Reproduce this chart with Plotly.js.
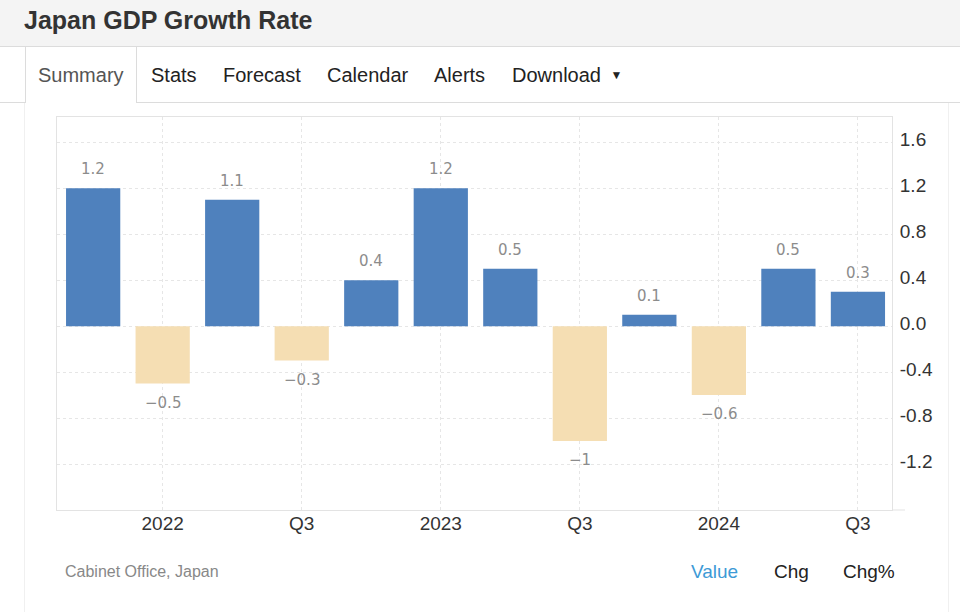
<!DOCTYPE html>
<html>
<head>
<meta charset="utf-8">
<script src="https://cdn.plot.ly/plotly-3.0.1.min.js"></script>
<style>
  html, body { margin:0; padding:0; width:960px; height:612px; overflow:hidden; background:#fff; font-family:"Liberation Sans", Arial, sans-serif; }
  .abs { position:absolute; }
  #header { left:0; top:0; width:960px; height:47px; background:#f4f4f4; border-bottom:1px solid #dcdcdc; box-sizing:border-box; }
  #title { left:24px; top:4px; font-size:25px; font-weight:bold; color:#333; line-height:32px; white-space:nowrap; }
  #tabline1 { left:0; top:102px; width:25px; height:1px; background:#dcdcdc; }
  #tabline2 { left:137px; top:102px; width:823px; height:1px; background:#dcdcdc; }
  #activetab { left:25px; top:47px; width:112px; height:56px; border-left:1px solid #dcdcdc; border-right:1px solid #dcdcdc; box-sizing:border-box; }
  .tab { top:62px; font-size:20px; line-height:26px; color:#222; white-space:nowrap; }
  #panelL { left:24px; top:103px; width:1px; height:509px; background:#f0f0f0; }
  #panelR { left:948px; top:103px; width:1px; height:509px; background:#f0f0f0; }
  #source { left:65px; top:562px; font-size:16px; color:#888; line-height:20px; white-space:nowrap; }
  .mode { top:560px; font-size:19px; line-height:24px; color:#222; white-space:nowrap; }
  #chart { position:absolute; left:0; top:0; width:960px; height:612px; }
</style>
</head>
<body>
<div id="header" class="abs"></div>
<div id="title" class="abs">Japan GDP Growth Rate</div>
<div id="activetab" class="abs"></div>
<div id="tabline1" class="abs"></div>
<div id="tabline2" class="abs"></div>
<div class="abs tab" style="left:38px;color:#555;">Summary</div>
<div class="abs tab" style="left:151px;">Stats</div>
<div class="abs tab" style="left:223px;">Forecast</div>
<div class="abs tab" style="left:327px;">Calendar</div>
<div class="abs tab" style="left:434px;">Alerts</div>
<div class="abs tab" style="left:512px;">Download <span style="font-size:12px;position:relative;top:-3px;left:4px;">&#9660;</span></div>
<div id="panelL" class="abs"></div>
<div id="panelR" class="abs"></div>
<div id="chart"></div>
<div id="source" class="abs">Cabinet Office, Japan</div>
<div class="abs mode" style="left:691px;color:#3d9ad6;">Value</div>
<div class="abs mode" style="left:774px;">Chg</div>
<div class="abs mode" style="left:843px;">Chg%</div>
<script>
// ---- data ----
const quarters = ["Q4 2021","Q1 2022","Q2 2022","Q3 2022","Q4 2022","Q1 2023","Q2 2023","Q3 2023","Q4 2023","Q1 2024","Q2 2024","Q3 2024"];
const growth = [1.2, -0.5, 1.1, -0.3, 0.4, 1.2, 0.5, -1, 0.1, -0.6, 0.5, 0.3];
const xTickVals = ["Q1 2022","Q3 2022","Q1 2023","Q3 2023","Q1 2024","Q3 2024"];
const xTickText = ["2022","Q3","2023","Q3","2024","Q3"];
const yTickVals = [-1.2, -0.8, -0.4, 0, 0.4, 0.8, 1.2, 1.6];
const yTickText = ["-1.2","-0.8","-0.4","0.0","0.4","0.8","1.2","1.6"];

const POS = "#4f81bd", NEG = "#f5deb3";

const trace = {
  type: "bar",
  x: quarters,
  y: growth,
  marker: { color: growth.map(v => v >= 0 ? POS : NEG) },
  hoverinfo: "x+y"
};

const annotations = quarters.map((q, i) => ({
  x: q, y: growth[i], xref: "x", yref: "y",
  text: String(growth[i]).replace("-", "\u2212"),
  showarrow: false,
  yanchor: "middle",
  yshift: growth[i] >= 0 ? 19 : -19,
  font: { family: "DejaVu Sans", size: 15, color: "#8c8c8c" }
}));

const layout = {
  width: 960, height: 612,
  margin: { l: 57, r: 68, t: 117, b: 102, pad: 0 },
  paper_bgcolor: "rgba(0,0,0,0)",
  plot_bgcolor: "rgba(0,0,0,0)",
  showlegend: false,
  bargap: 0.22,
  font: { family: "Liberation Sans, Arial, sans-serif", color: "#333" },
  xaxis: {
    type: "category",
    range: [-0.52, 11.49],
    tickvals: xTickVals, ticktext: xTickText,
    tickfont: { size: 19, color: "#333" },
    ticklabelstandoff: -4,
    showgrid: true, gridcolor: "#e6e6e6", griddash: "dot",
    showline: true, linecolor: "#e3e3e3", linewidth: 1, mirror: true,
    ticks: "", fixedrange: true
  },
  yaxis: {
    side: "right",
    range: [-1.6, 1.82],
    tickvals: yTickVals, ticktext: yTickText,
    tickfont: { size: 19, color: "#333" },
    ticklabelstandoff: 3,
    ticklabelshift: -3,
    showgrid: true, gridcolor: "#e6e6e6", griddash: "dot",
    zeroline: false,
    showline: true, linecolor: "#e3e3e3", linewidth: 1, mirror: true,
    ticks: "", fixedrange: true
  },
  shapes: [{
    type: "line", xref: "paper", yref: "paper",
    x0: 1, x1: 1 + 13 / 835, y0: 0, y1: 0,
    line: { color: "#e3e3e3", width: 1 }
  }],
  annotations: annotations
};

Plotly.newPlot("chart", [trace], layout, { displayModeBar: false, staticPlot: true });
</script>
</body>
</html>
